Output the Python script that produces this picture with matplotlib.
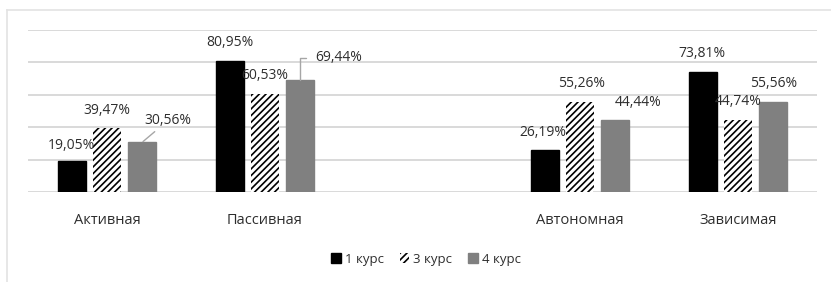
#!/usr/bin/env python

"""
Grouped bar chart: share of students by course.
"""

import matplotlib
matplotlib.use("Agg")
import matplotlib.pyplot as plt
from matplotlib.lines import Line2D
import numpy as np

plt.rc("font", family=["Open Sans", "DejaVu Sans"], size=10)
plt.rc("hatch", linewidth=1.2, color="black")

# Data (empty string = gap slot between the two pairs)
categories = ["Активная", "Пассивная", "", "Автономная", "Зависимая"]
series     = ["1 курс", "3 курс", "4 курс"]
course1    = [19.05, 80.95, None, 26.19, 73.81]
course3    = [39.47, 60.53, None, 55.26, 44.74]
course4    = [30.56, 69.44, None, 44.44, 55.56]

# Layout
textColor  = "#2e2e2e"
gridColor  = "#d9d9d9"
barWidth   = 0.177
barShift   = 0.222
# label offsets in pixels (dx, dy) per series / category
labelOffsets = {
    0: [(0, 16), (0, 18), None, (-2, 17), (-1, 19)],
    1: [(0, 18), (0, 18), None, (1, 19), (0, 18)],
    2: [(26, 22), (39, 22), None, (23, 18), (0, 18)],
}
leaders = {(2, 0): "straight", (2, 1): "angle"}

fig = plt.figure(figsize=(8.31, 2.82), dpi=100)
ax = fig.add_axes([28/831, 90/282, 789/831, 162/282])

# chart frame (top and left edge)
fig.add_artist(Line2D([7/831, 7/831], [0, 1 - 10/282], color="#e3e3e3", lw=1.2))
fig.add_artist(Line2D([7/831, 1], [1 - 10/282, 1 - 10/282], color="#e3e3e3", lw=1.2))

x = np.arange(len(categories))
styles = [dict(color="black", edgecolor="black"),
          dict(color="white", edgecolor="black", hatch="/////", linewidth=0),
          dict(color="#808080", edgecolor="#808080")]

allValues = [course1, course3, course4]
for s, values in enumerate(allValues):
    idx = [i for i, v in enumerate(values) if v is not None]
    vals = [values[i] for i in idx]
    pos = x[idx] + (s - 1)*barShift
    ax.bar(pos, vals, width=barWidth, label=series[s], zorder=3, **styles[s])
    for i, p, v in zip(idx, pos, vals):
        dx, dy = labelOffsets[s][i]
        text = "{:.2f}%".format(v).replace(".", ",")
        kind = leaders.get((s, i))
        arrow = None
        if kind == "straight":
            arrow = dict(arrowstyle="-", color="#a6a6a6", lw=1.0,
                         shrinkA=1, shrinkB=1)
        elif kind == "angle":
            arrow = dict(arrowstyle="-", color="#a6a6a6", lw=1.0,
                         shrinkA=5, shrinkB=0,
                         connectionstyle="angle,angleA=0,angleB=90,rad=0")
        ax.annotate(text, xy=(p, v), xytext=(dx, dy),
                    textcoords="offset pixels", ha="center", va="center",
                    color=textColor, fontsize=10, zorder=4,
                    arrowprops=arrow)

ax.set_xlim(-0.5, len(categories) - 0.5)
ax.set_ylim(0, 100)
ax.set_yticks(np.arange(0, 101, 20))
ax.yaxis.grid(True, color=gridColor, lw=1.4, zorder=0)
ax.set_yticklabels([])
ax.tick_params(axis="y", length=0)
ax.set_xticks(x)
ax.set_xticklabels(categories, color=textColor, fontsize=10.5)
ax.tick_params(axis="x", length=0, pad=15)
for side in ax.spines.values():
    side.set_visible(False)

ax.legend(loc="center", bbox_to_anchor=(426/831, 23/282),
          bbox_transform=fig.transFigure, ncol=3, frameon=False,
          handlelength=0.75, handleheight=0.75, handletextpad=0.3,
          columnspacing=1.2, fontsize=9.5, labelcolor=textColor)

fig.savefig("out.png", dpi=100)
